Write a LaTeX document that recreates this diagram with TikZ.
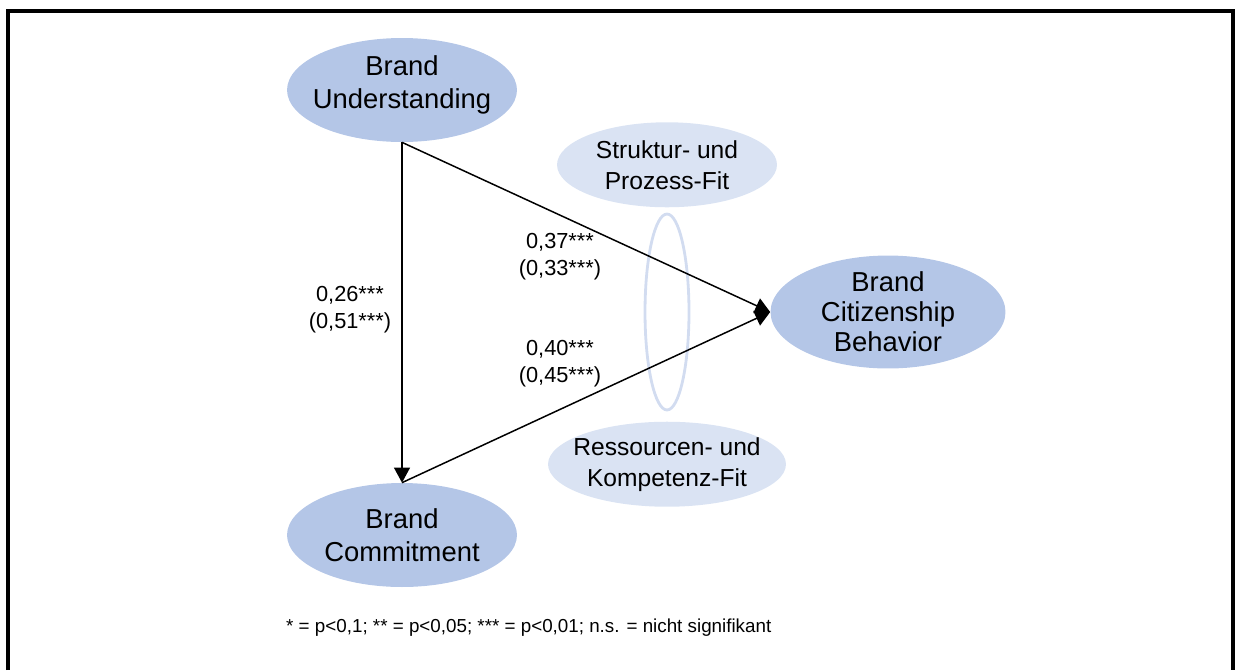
\documentclass[tikz,border=0pt]{standalone}
\usepackage{fontspec}
\setmainfont{Liberation Sans}
\usepackage{xcolor}
\usetikzlibrary{shapes.geometric, arrows.meta, positioning}
\definecolor{brandblue}{HTML}{B4C6E7}
\definecolor{fitblue}{HTML}{DAE3F3}
\definecolor{ringblue}{HTML}{D2DCF0}

\begin{document}
\begin{tikzpicture}
[x=0.02cm, y=-0.02cm,
construct/.style={ellipse, fill=brandblue, inner xsep=-4mm, inner ysep=0mm, minimum width=4.6cm, minimum height=2.08cm, align=center, font=\fontsize{15.6}{18.7}\selectfont},
fitfactor/.style={ellipse, fill=fitblue, inner xsep=-4mm, inner ysep=0mm, minimum height=1.7cm, align=center, font=\fontsize{14}{17.6}\selectfont},
coef/.style={align=center, font=\fontsize{12.4}{15.3}\selectfont},
link/.style={draw, line width=0.85pt, -{Triangle[length=8.5pt, width=9pt]}}
]
\useasboundingbox (0,0) rectangle (1236,670);
\draw[line width=2.3pt] (8,670) -- (8,11) -- (1233,11) -- (1233,670);

\node (ring) [ellipse, draw=ringblue, line width=1.6pt, inner sep=0pt, minimum width=0.88cm, minimum height=3.92cm] at (667,312) {};
\node (struktur) [fitfactor, minimum width=4.4cm, above=1mm of ring] {Struktur- und\\Prozess-Fit};
\node (ressourcen) [fitfactor, minimum width=4.76cm, below=2mm of ring] {Ressourcen- und\\Kompetenz-Fit};

\node (bu) [construct, text depth=9pt] at (402,90) {Brand\\Understanding};
\node (bc) [construct] at (402,535) {Brand\\Commitment};
\node (cb) [construct, minimum width=4.7cm, minimum height=2cm, font=\fontsize{15.6}{17}\selectfont] at (888,312) {Brand\\Citizenship\\Behavior};

\draw[link] (bu.south) -- (bc.north);
\draw[link] (bu.south) -- (cb.west);
\draw[link] (bc.north) -- (cb.west);

\node (c1) [coef] at (350,310) {0,26***\\(0,51***)};
\node (c2) [coef] at (560,257) {0,37***\\(0,33***)};
\node (c3) [coef] at (560,364) {0,40***\\(0,45***)};

\node (note) [anchor=west, font=\fontsize{10.7}{13}\selectfont] at (280,628) {* = p<0,1; ** = p<0,05; *** = p<0,01; n.s. = nicht signifikant};
\end{tikzpicture}
\end{document}
